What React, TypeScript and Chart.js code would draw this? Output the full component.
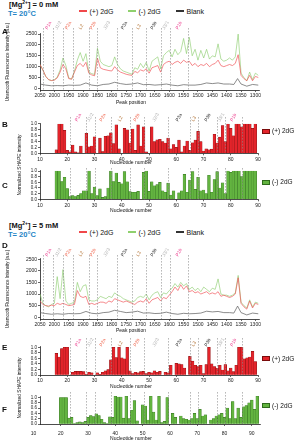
import React, { useEffect, useRef } from "react";
import { Chart, registerables } from "chart.js";

Chart.register(...registerables);

const FONT = "'Liberation Sans', Arial, Helvetica, sans-serif";

// ---------- Trace data (capillary electrophoresis peak positions) ----------
const PEAK_POS = [2050,2040,2030,2020,2010,2000,1990,1980,1970,1960,1950,1940,1930,1920,1910,1900,1890,1880,1870,1860,1850,1840,1830,1820,1810,1800,1790,1780,1770,1760,1750,1740,1730,1720,1710,1700,1690,1680,1670,1660,1650,1640,1630,1620,1610,1600,1590,1580,1570,1560,1550,1540,1530,1520,1510,1500,1490,1480,1470,1460,1450,1440,1430,1420,1410,1400,1390,1380,1370,1360,1350,1340,1330,1320,1310,1300,1290];

const A_PLUS = [1100,850,550,400,360,380,480,750,1100,900,
  450,420,750,1050,1150,1000,1200,700,620,580,
  1400,950,880,850,820,800,1000,850,750,700,
  650,620,600,780,720,850,800,900,700,950,
  1000,1050,750,1100,1200,1250,1100,1200,1250,1150,
  1300,1200,1250,1050,1150,1000,1100,1050,1150,1000,
  1100,1150,1300,1050,1000,1050,1100,1050,1150,1550,
  600,450,350,600,350,550,500];

const A_MINUS = [1100,850,550,400,360,400,520,850,1400,1050,
  480,430,800,1300,1650,1250,1600,750,680,640,
  1850,1250,1100,1050,1000,1050,1450,1100,900,800,
  750,700,650,950,880,1150,950,1200,800,1250,
  1350,1450,900,1500,1650,1750,1450,1800,1550,1700,
  2300,1600,2350,1500,1800,1300,1750,1400,1800,1350,
  1500,1450,2050,1350,1250,1300,1400,1300,1450,2500,
  700,500,350,750,400,700,600];

const D_PLUS = [700,550,500,480,520,500,600,550,600,550,
  500,520,550,1150,900,850,900,550,600,550,
  600,650,650,600,700,650,800,750,700,650,
  700,650,600,550,650,700,650,800,600,750,
  800,850,700,850,800,950,1100,1300,1150,1400,
  1200,1350,1100,1150,1050,1100,1000,1050,1100,1000,
  1050,1000,1100,900,950,900,850,900,1000,1700,
  600,450,350,700,400,600,550];

const D_MINUS = [1000,600,500,450,550,600,1750,800,2050,700,
  550,600,650,1500,1100,1350,1400,750,700,700,
  750,900,850,800,900,850,1050,950,900,800,
  750,700,650,700,850,900,850,1000,750,950,
  1050,1100,850,1050,1000,1150,1250,1450,1300,1500,
  1350,1450,1200,1300,1150,1250,1100,1300,1200,1100,
  1250,1200,1650,1000,950,950,900,950,1050,1800,
  650,500,400,750,450,650,600];

const BLANK_POS = [2050,2030,2010,1990,1970,1950,1930,1910,1890,1870,1850,1830,1810,1790,1770,1750,1730,1710,1690,1670,1650,1630,1610,1590,1570,1550,1530,1510,1490,1470,1450,1430,1410,1390,1375,1362,1350,1330,1310,1290];
const A_BLANK = [200,150,120,130,120,150,140,150,250,150,120,180,200,280,220,180,200,250,170,180,150,170,200,150,120,170,150,150,180,250,220,250,200,200,180,450,200,100,180,150];
const D_BLANK = [200,160,130,150,130,160,150,160,250,170,150,200,220,300,250,200,220,260,180,190,160,170,220,160,130,170,150,160,180,260,230,250,200,200,180,480,200,100,180,150];

// ---------- SHAPE reactivity (normalized) ----------
const B_START = 16;
const B_PLUS = [0.12,1.0,1.0,0.78,0.1,0.05,0.28,0.05,0.02,0.25,
  0.0,0.68,0.22,0.25,0.56,0.0,0.52,0.06,0.58,0.6,
  0.7,0.33,0.97,0.15,0.0,0.85,0.8,0.35,0.83,0.1,
  0.97,0.25,0.9,0.05,0.0,0.9,0.4,0.46,0.48,0.4,
  0.35,0.52,0.15,0.3,0.2,0.45,0.05,0.25,0.42,0.1,
  0.36,0.45,0.75,0.4,0.08,0.15,0.12,0.14,0.65,0.35,
  0.55,0.95,0.4,1.0,0.85,0.6,1.0,1.0,0.9,1.0,
  1.0,1.0,0.85,1.0];

const C_START = 16;
const C_MINUS = [1.0,1.0,0.63,0.78,0.38,0.1,0.13,0.1,0.14,0.2,
  0.3,0.3,1.0,0.2,0.43,0.13,0.37,0.07,0.1,0.4,
  1.0,0.63,0.93,0.6,0.55,0.98,0.62,0.27,0.25,0.25,
  0.28,0.0,0.95,1.0,0.28,0.62,0.48,0.52,0.6,0.3,
  0.25,0.57,0.15,0.3,0.0,0.23,0.3,0.88,0.25,0.68,
  0.98,0.35,0.78,0.3,0.33,0.2,0.85,0.25,0.7,0.98,
  0.4,0.58,0.2,1.0,0.95,1.0,1.0,1.0,0.8,1.0,
  1.0,1.0,1.0,1.0];

const E_START = 16;
const E_PLUS = [0.78,0.65,0.95,1.0,1.0,0.0,0.1,0.13,0.13,0.13,
  0.12,0.03,0.1,0.08,0.0,0.08,0.02,0.1,0.15,0.2,
  0.55,1.0,0.63,1.0,0.62,0.58,1.0,0.15,0.05,0.1,
  0.08,0.12,0.13,0.05,0.1,0.08,0.15,0.1,0.13,0.0,
  0.1,0.08,0.35,0.0,0.42,0.4,0.38,0.25,0.0,0.67,
  0.5,0.35,0.3,0.35,0.05,0.38,1.0,0.4,0.3,0.25,
  0.35,0.18,0.38,0.15,0.25,0.12,0.35,1.0,1.0,0.58,
  0.62,0.65,0.85,0.48];

const F_START = 20;
const F_MINUS = [1.0,1.0,1.0,0.22,0.25,0.02,0.05,0.08,0.05,0.1,
  0.25,0.32,0.28,0.38,0.32,0.18,0.05,0.02,0.27,0.25,
  1.05,1.02,1.02,0.22,1.05,0.2,0.52,0.88,0.12,0.0,
  0.72,0.68,0.15,1.05,0.45,0.15,1.05,0.05,0.1,1.0,
  0.0,0.4,0.25,0.0,0.3,0.2,0.18,0.15,0.2,0.4,
  0.2,0.55,0.3,0.35,0.0,0.15,0.2,0.3,0.35,0.4,
  0.25,0.6,0.2,0.85,0.2,0.6,0.25,0.65,0.7,0.8,
  0.9,0.55,1.05];

// ---------- Structural regions ----------
const REGION_LABELS = ["P1a","J1/2","P2a","L2","P2b","J2/3","P3a","L3","P3b","J3/1","P1b"];
const REGION_COLORS = ["#ec3b8c","#b0b0b0","#f0674f","#b77a3f","#f0674f","#b0b0b0","#2a2a2a","#b77a3f","#2a2a2a","#b0b0b0","#ec3b8c"];
const TRACE_BOUNDS = [2038,2004,1969,1934,1880,1851,1783,1731,1682,1627,1598,1534];
const NT_BOUNDS = [21,27,30,36,43,48,57,65,68,75,78,84];
const NT_BOUNDS_F = [23.4,29.4,32.4,38.4,45.4,50.4,59.3,67.3,70.3,77.3,80.3,86.3];

// ---------- Ticks ----------
const TRACE_TICKS = [2050,2000,1950,1900,1850,1800,1750,1700,1650,1600,1550,1500,1450,1400,1350,1300];
const INTENSITY_TICKS = [0,500,1000,1500,2000,2500];
const NT_TICKS = [10,20,30,40,50,60,70,80,90];
const SHAPE_TICKS = [0,0.2,0.4,0.6,0.8,1.0];

const RED_LINE = "rgba(240,82,86,0.85)";
const GREEN_LINE = "rgba(140,205,110,0.8)";
const BLANK_LINE = "#5a5a5a";
const RED_BAR = "#e3242b";
const RED_EDGE = "#7a0c0c";
const GREEN_BAR = "#63b440";
const GREEN_EDGE = "#2f6b1c";
const BLUE = "#2584c6";

type Frame = { top: number; height: number; areaTop: number; areaBottom: number; right: number };

function regionPlugin(cfg: { bounds: number[]; divTop: number; lineTop: number; labelBottom?: number }) {
  return {
    id: "regions",
    afterDatasetsDraw(chart: any) {
      const { ctx, chartArea, scales } = chart;
      const xs = scales.x;
      ctx.save();
      ctx.strokeStyle = "#8a8a8a";
      ctx.lineWidth = 0.6;
      ctx.setLineDash([1.6, 1.4]);
      const y0 = cfg.lineTop - cfg.divTop;
      cfg.bounds.forEach((b) => {
        const x = Math.round(xs.getPixelForValue(b)) + 0.5;
        ctx.beginPath();
        ctx.moveTo(x, y0);
        ctx.lineTo(x, chartArea.bottom);
        ctx.stroke();
      });
      ctx.setLineDash([]);
      if (cfg.labelBottom !== undefined) {
        ctx.font = `4.6px ${FONT}`;
        ctx.textBaseline = "middle";
        ctx.textAlign = "left";
        for (let i = 0; i < REGION_LABELS.length; i++) {
          const mid = (xs.getPixelForValue(cfg.bounds[i]) + xs.getPixelForValue(cfg.bounds[i + 1])) / 2;
          const w = ctx.measureText(REGION_LABELS[i]).width;
          ctx.save();
          ctx.translate(mid - w * 0.25, cfg.labelBottom - cfg.divTop);
          ctx.rotate(-Math.PI / 3);
          ctx.fillStyle = REGION_COLORS[i];
          ctx.fillText(REGION_LABELS[i], 0, 0);
          ctx.restore();
        }
      }
      ctx.restore();
    },
  };
}

function baseScale(fontSize: number) {
  return {
    grid: { drawOnChartArea: false, drawTicks: true, tickLength: 2, color: "#000", lineWidth: 0.6, offset: false },
    border: { display: true, color: "#000", width: 0.7 },
    ticks: { font: { family: FONT, size: fontSize }, color: "#1a1a1a", padding: 1, maxRotation: 0, minRotation: 0, autoSkip: false },
  };
}

function makeOptions(p: {
  frame: Frame; xMin: number; xMax: number; reverse: boolean; xTicks: number[]; xPad: number;
  hideX?: number; yMin: number; yMax: number; yTicks: number[]; yFont: number; yFmt: (v: number) => string;
}) {
  const f = p.frame;
  const bx = baseScale(5);
  const by = baseScale(p.yFont);
  return {
    responsive: true,
    maintainAspectRatio: false,
    animation: false,
    events: [],
    layout: { padding: { top: f.areaTop - f.top, right: 262 - f.right, left: 0, bottom: 0 } },
    plugins: { legend: { display: false }, tooltip: { enabled: false } },
    scales: {
      x: {
        type: "linear", min: p.xMin, max: p.xMax, reverse: p.reverse, offset: false,
        grid: { ...bx.grid, tickColor: (c: any) => (c.tick && c.tick.value === p.hideX ? "rgba(0,0,0,0)" : "#000") },
        border: bx.border,
        ticks: { ...bx.ticks, padding: p.xPad, callback: (v: any) => String(v) },
        afterBuildTicks: (a: any) => { a.ticks = p.xTicks.map((v) => ({ value: v })); },
        afterFit: (a: any) => { a.height = f.top + f.height - f.areaBottom; },
      },
      y: {
        type: "linear", min: p.yMin, max: p.yMax,
        grid: by.grid, border: by.border,
        ticks: { ...by.ticks, callback: (v: any) => p.yFmt(Number(v)) },
        afterBuildTicks: (a: any) => { a.ticks = p.yTicks.map((v) => ({ value: v })); },
        afterFit: (a: any) => { a.width = 40; },
      },
    },
  };
}

function traceConfig(frame: Frame, plus: number[], minus: number[], blank: number[], labelBottom: number, lineTop: number) {
  return {
    type: "line",
    data: {
      datasets: [
        { data: PEAK_POS.map((x, i) => ({ x, y: plus[i] })), borderColor: RED_LINE, borderWidth: 0.8, pointRadius: 0, tension: 0 },
        { data: PEAK_POS.map((x, i) => ({ x, y: minus[i] })), borderColor: GREEN_LINE, borderWidth: 0.8, pointRadius: 0, tension: 0 },
        { data: BLANK_POS.map((x, i) => ({ x, y: blank[i] })), borderColor: BLANK_LINE, borderWidth: 0.7, pointRadius: 0, tension: 0 },
      ],
    },
    options: makeOptions({
      frame, xMin: 1285, xMax: 2050, reverse: true, xTicks: TRACE_TICKS, xPad: 1,
      yMin: -75, yMax: 2550, yTicks: INTENSITY_TICKS, yFont: 5, yFmt: (v) => String(v),
    }),
    plugins: [regionPlugin({ bounds: TRACE_BOUNDS, divTop: frame.top, lineTop, labelBottom })],
  };
}

function barConfig(frame: Frame, start: number, values: number[], fill: string, edge: string,
  xr: [number, number], yMax: number, bounds: number[], lineTop: number, labelBottom?: number, hideX?: number, xPad = 1) {
  return {
    type: "bar",
    data: {
      datasets: [{
        data: values.map((y, i) => ({ x: start + i, y })),
        backgroundColor: fill, borderColor: edge, borderWidth: 0.4,
        barPercentage: 1, categoryPercentage: 1,
      }],
    },
    options: makeOptions({
      frame, xMin: xr[0], xMax: xr[1], reverse: false, xTicks: NT_TICKS, xPad, hideX,
      yMin: 0, yMax, yTicks: SHAPE_TICKS, yFont: 4.5, yFmt: (v) => v.toFixed(1),
    }),
    plugins: [regionPlugin({ bounds, divTop: frame.top, lineTop, labelBottom })],
  };
}

function ChartBox({ frame, build }: { frame: Frame; build: () => any }) {
  const ref = useRef<HTMLCanvasElement | null>(null);
  useEffect(() => {
    if (!ref.current) return;
    const chart = new Chart(ref.current, build());
    return () => chart.destroy();
  }, []);
  return (
    <div style={{ position: "absolute", left: 0, top: frame.top, width: 262, height: frame.height }}>
      <canvas ref={ref} />
    </div>
  );
}

function Txt(props: { x: number; y: number; size: number; bold?: boolean; color?: string; center?: boolean; rotate?: boolean; children: any }) {
  const { x, y, size, bold, color, center, rotate, children } = props;
  return (
    <div style={{
      position: "absolute", left: x, top: y, fontSize: size, fontFamily: FONT, fontWeight: bold ? 700 : 400,
      color: color || "#111", whiteSpace: "nowrap", lineHeight: 1,
      transform: `translate(${center ? "-50%" : "0"}, -50%)${rotate ? " rotate(-90deg)" : ""}`,
    }}>{children}</div>
  );
}

function LineKey({ x, y, color, label }: { x: number; y: number; color: string; label: string }) {
  return (
    <>
      <div style={{ position: "absolute", left: x, top: y - 0.75, width: 8, height: 1.5, background: color }} />
      <Txt x={x + 10.5} y={y} size={7}>{label}</Txt>
    </>
  );
}

function BoxKey({ y, fill, edge, label }: { y: number; fill: string; edge: string; label: string }) {
  return (
    <>
      <div style={{ position: "absolute", left: 262, top: y - 2.5, width: 8, height: 5, background: fill, border: `0.6px solid ${edge}`, boxSizing: "border-box" }} />
      <Txt x={272} y={y} size={6.5}>{label}</Txt>
    </>
  );
}

function Header({ y, mg }: { y: number; mg: string }) {
  return (
    <>
      <Txt x={9} y={y} size={7.5} bold>[Mg<sup style={{ fontSize: 5, verticalAlign: "3px" }}>2+</sup>] = {mg}</Txt>
      <Txt x={8} y={y + 10} size={7.5} bold color={BLUE}>T= 20°C</Txt>
      <LineKey x={79} y={y + 7.5} color="#f0484a" label="(+) 2dG" />
      <LineKey x={128} y={y + 7.5} color="#8fd06d" label="(-) 2dG" />
      <LineKey x={176} y={y + 7.5} color="#333" label="Blank" />
    </>
  );
}

const FA: Frame = { top: 17, height: 90, areaTop: 33, areaBottom: 90, right: 260 };
const FB: Frame = { top: 104, height: 59.3, areaTop: 123.5, areaBottom: 153.3, right: 258 };
const FC: Frame = { top: 166, height: 43.3, areaTop: 170.5, areaBottom: 199.3, right: 258 };
const FD: Frame = { top: 241, height: 90, areaTop: 258, areaBottom: 319, right: 260 };
const FE: Frame = { top: 332, height: 53, areaTop: 346.8, areaBottom: 375, right: 258 };
const FF: Frame = { top: 390, height: 46, areaTop: 396, areaBottom: 424, right: 260 };

export default function App() {
  return (
    <div style={{ position: "fixed", left: 0, top: 0, width: 295, height: 440, overflow: "hidden", background: "#fff" }}>
      <Header y={3.5} mg="0 mM" />
      <Header y={224.5} mg="5 mM" />

      <ChartBox frame={FA} build={() => traceConfig(FA, A_PLUS, A_MINUS, A_BLANK, 29, 28)} />
      <ChartBox frame={FB} build={() => barConfig(FB, B_START, B_PLUS, RED_BAR, RED_EDGE, [10, 90], 1.017, NT_BOUNDS, 117, 121)} />
      <ChartBox frame={FC} build={() => barConfig(FC, C_START, C_MINUS, GREEN_BAR, GREEN_EDGE, [10, 90], 1.018, NT_BOUNDS, 168)} />
      <ChartBox frame={FD} build={() => traceConfig(FD, D_PLUS, D_MINUS, D_BLANK, 256, 255)} />
      <ChartBox frame={FE} build={() => barConfig(FE, E_START, E_PLUS, RED_BAR, RED_EDGE, [10, 90], 1.018, NT_BOUNDS, 338, 346)} />
      <ChartBox frame={FF} build={() => barConfig(FF, F_START, F_MINUS, GREEN_BAR, GREEN_EDGE, [12.4, 93], 1.057, NT_BOUNDS_F, 392, undefined, 10, 5)} />

      <Txt x={2} y={31.5} size={8} bold>A</Txt>
      <Txt x={2} y={125} size={8} bold>B</Txt>
      <Txt x={2} y={186} size={8} bold>C</Txt>
      <Txt x={2} y={246} size={8} bold>D</Txt>
      <Txt x={2} y={348} size={8} bold>E</Txt>
      <Txt x={2} y={410} size={8} bold>F</Txt>

      <Txt x={7.5} y={62} size={4.5} center rotate>Unsmooth Fluorescence Intensity (a.u.)</Txt>
      <Txt x={7.5} y={289} size={4.5} center rotate>Unsmooth Fluorescence Intensity (a.u.)</Txt>
      <Txt x={20} y={165} size={4.8} center rotate>Normalized SHAPE intensity</Txt>
      <Txt x={20} y={388} size={4.8} center rotate>Normalized SHAPE intensity</Txt>

      <Txt x={131} y={102} size={5} center>Peak position</Txt>
      <Txt x={131} y={330} size={5} center>Peak position</Txt>
      <Txt x={131} y={162} size={5} center>Nucleotide number</Txt>
      <Txt x={131} y={209.5} size={5} center>Nucleotide number</Txt>
      <Txt x={131} y={386} size={5} center>Nucleotide number</Txt>
      <Txt x={131} y={437.5} size={5} center>Nucleotide number</Txt>

      <BoxKey y={131} fill={RED_BAR} edge={RED_EDGE} label="(+) 2dG" />
      <BoxKey y={182} fill={GREEN_BAR} edge={GREEN_EDGE} label="(-) 2dG" />
      <BoxKey y={358.5} fill={RED_BAR} edge={RED_EDGE} label="(+) 2dG" />
      <BoxKey y={405.5} fill={GREEN_BAR} edge={GREEN_EDGE} label="(-) 2dG" />
    </div>
  );
}
